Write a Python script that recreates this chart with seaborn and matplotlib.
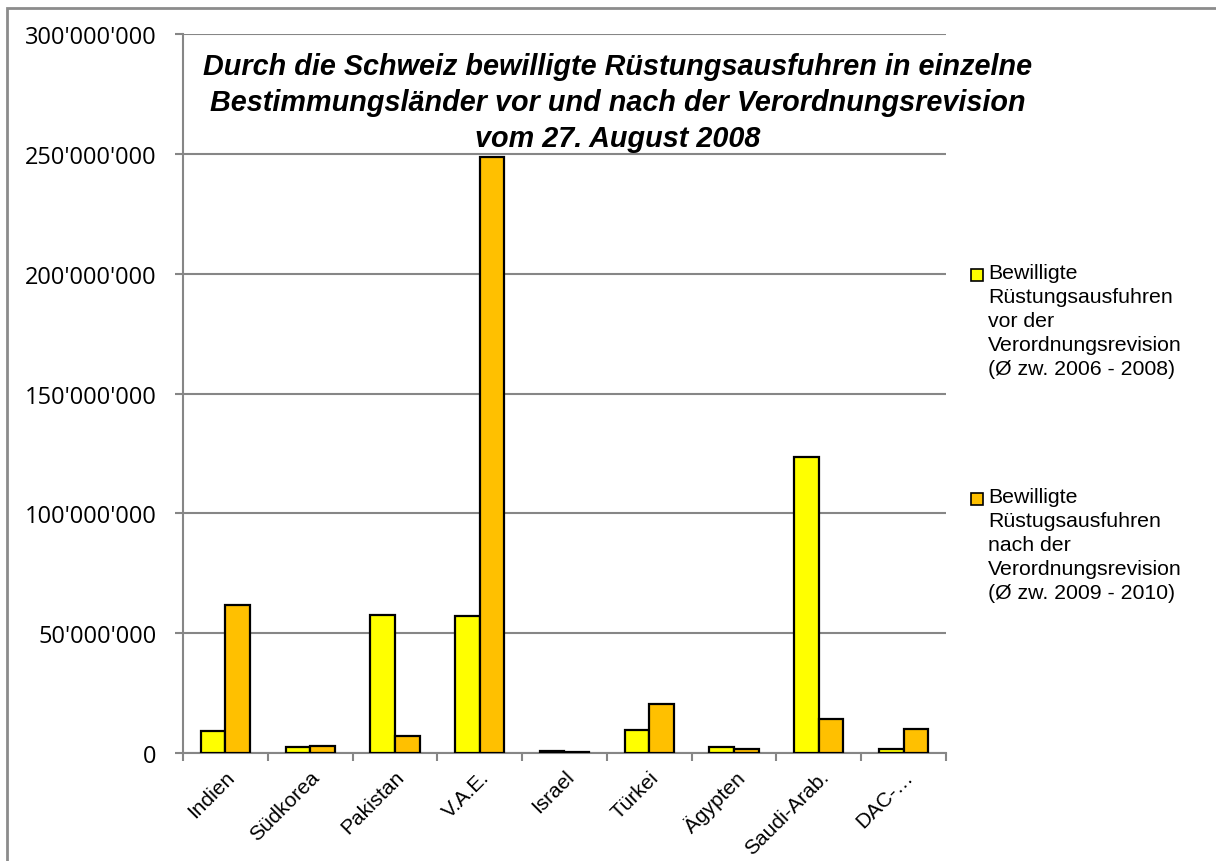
import matplotlib
matplotlib.use("Agg")
import matplotlib.pyplot as plt
from matplotlib.patches import Rectangle
from matplotlib.ticker import FuncFormatter, FixedLocator
import seaborn as sns
import pandas as pd

# Approved arms exports per destination country (CHF)
countries = ["Indien", "Südkorea", "Pakistan", "V.A.E.", "Israel",
             "Türkei", "Ägypten", "Saudi-Arab.", "DAC-…"]
before = [9.2e6, 2.5e6, 57.5e6, 57.1e6, 0.8e6, 9.6e6, 2.5e6, 123.4e6, 1.7e6]
after = [61.7e6, 2.9e6, 7.1e6, 248.5e6, 0.5e6, 20.4e6, 1.7e6, 14.2e6, 10.0e6]

series_labels = [
    "Bewilligte\nRüstungsausfuhren\nvor der\nVerordnungsrevision\n(Ø zw. 2006 - 2008)",
    "Bewilligte\nRüstugsausfuhren\nnach der\nVerordnungsrevision\n(Ø zw. 2009 - 2010)",
]
colors = ["#FFFF00", "#FFC000"]
title = ("Durch die Schweiz bewilligte Rüstungsausfuhren in einzelne\n"
         "Bestimmungsländer vor und nach der Verordnungsrevision\n"
         "vom 27. August 2008")

df = pd.DataFrame({
    "Land": countries * 2,
    "Wert": before + after,
    "Periode": [series_labels[0]] * len(countries) + [series_labels[1]] * len(countries),
})

sns.set_theme(style="white")
plt.rcParams["font.family"] = ["Liberation Sans", "DejaVu Sans"]

fig = plt.figure(figsize=(12.16, 8.62), dpi=100)
ax = fig.add_axes([183 / 1216, 1 - 754 / 862, (946 - 183) / 1216, (754 - 35) / 862])

grid_col = "#868686"

sns.barplot(data=df, x="Land", y="Wert", hue="Periode", hue_order=series_labels,
            palette=colors, saturation=1, width=0.58, edgecolor="black",
            linewidth=1.6, legend=False, ax=ax, zorder=3)

ax.set_ylim(0, 300e6)
ax.set_xlim(-0.5, len(countries) - 0.5)
ax.set_yticks([0, 50e6, 100e6, 150e6, 200e6, 250e6, 300e6])
ax.yaxis.set_major_formatter(FuncFormatter(lambda v, p: f"{int(v):,}".replace(",", "'")))
ax.yaxis.grid(True, color=grid_col, linewidth=1.5, zorder=0)
ax.set_axisbelow(True)
ax.set_xlabel("")
ax.set_ylabel("")

for side in ["top", "right"]:
    ax.spines[side].set_visible(False)
for side in ["left", "bottom"]:
    ax.spines[side].set_color(grid_col)
    ax.spines[side].set_linewidth(1.5)

for lab in ax.get_yticklabels():
    lab.set_fontfamily(["Open Sans", "DejaVu Sans"])
    lab.set_fontsize(17)
ax.tick_params(axis="y", which="major", left=True, length=6, width=1.5,
               color=grid_col, pad=13, labelcolor="black")

# Category labels at centres, tick marks at category boundaries
ax.set_xticks(range(len(countries)))
ax.set_xticklabels(countries, rotation=45, ha="right", rotation_mode="anchor",
                   fontsize=15, color="black")
ax.tick_params(axis="x", which="major", bottom=False, pad=4)
ax.xaxis.set_minor_locator(FixedLocator([i - 0.5 for i in range(len(countries) + 1)]))
ax.tick_params(axis="x", which="minor", bottom=True, length=6, width=1.5, color=grid_col)

# Title
fig.text(618 / 1216, 1 - 103 / 862, title, ha="center", va="center", fontsize=20.7,
         fontweight="bold", fontstyle="italic", linespacing=1.38, color="black")

# Legend: colour square next to the first line of each entry
legend_first_line = [276, 500]
for lbl, col, yc in zip(series_labels, colors, legend_first_line):
    fig.patches.append(Rectangle((971 / 1216, 1 - (yc + 6) / 862), 12 / 1216, 12 / 862,
                                 transform=fig.transFigure, facecolor=col,
                                 edgecolor="black", linewidth=1.2))
    fig.text(988 / 1216, 1 - (yc - 12) / 862, lbl, ha="left", va="top", fontsize=15.3,
             linespacing=1.34, color="black")

# Chart area frame
fig.patches.append(Rectangle((7 / 1216, -0.05), 1.1, 1 - 9 / 862 + 0.05,
                             transform=fig.transFigure, fill=False,
                             edgecolor="#8c8c8c", linewidth=2))

fig.savefig("out.png", dpi=100, facecolor="white")
